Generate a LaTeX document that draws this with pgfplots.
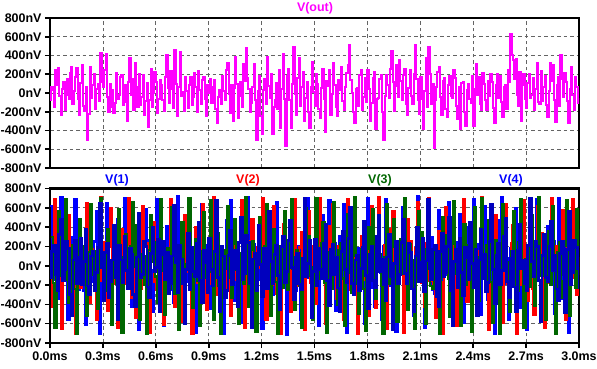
\documentclass[border=0pt]{standalone}
\usepackage{fontspec}
\setmainfont{Liberation Sans}
\usepackage{pgfplots}
\pgfplotsset{compat=1.18}
\definecolor{cout}{RGB}{255,0,255}
\definecolor{cone}{RGB}{0,0,255}
\definecolor{ctwo}{RGB}{255,0,0}
\definecolor{cthree}{RGB}{0,102,0}
\definecolor{cfour}{RGB}{0,0,190}
\definecolor{gridc}{RGB}{100,100,100}
\pgfplotsset{
  lt/.style={
    scale only axis, width=529bp,
    xmin=0, xmax=3, ymin=-800, ymax=800,
    xtick={0,0.3,0.6,0.9,1.2,1.5,1.8,2.1,2.4,2.7,3.0},
    ytick={-800,-600,-400,-200,0,200,400,600,800},
    yticklabels={-800nV,-600nV,-400nV,-200nV,0nV,200nV,400nV,600nV,800nV},
    grid=major,
    major grid style={gridc, line width=0.8bp, dash pattern=on 3.5bp off 3bp},
    tick align=outside, tick pos=left,
    major tick length=5bp,
    tick style={black, line width=1.6bp},
    axis line style={black, line width=2.4bp},
    ticklabel style={font={\fontsize{12.5}{15}\selectfont\bfseries}, text=black},
    /pgf/number format/assume math mode=true,
  }
}
\begin{document}
\begin{tikzpicture}
\useasboundingbox (0bp,0bp) rectangle (597bp,369bp);
\begin{axis}[lt, at={(50bp,201bp)}, anchor=south west, height=150bp,
  xticklabels={}, x tick style={draw=none}]
\addplot[cout, line width=2bp, const plot] table[row sep=\\, header=false, x expr=\coordindex*0.0075, y index=0] {
-80\\60\\30\\-150\\250\\90\\270\\-30\\-240\\40\\120\\-180\\-20\\150\\-60\\210\\280\\-120\\20\\170\\
270\\-60\\-240\\110\\300\\-140\\-190\\60\\-500\\-220\\280\\-50\\80\\200\\-170\\40\\100\\-90\\430\\120\\
60\\250\\420\\-40\\-200\\100\\-150\\30\\-210\\-110\\210\\-60\\-20\\170\\190\\-130\\-100\\80\\-300\\120\\
375\\-20\\150\\-180\\315\\60\\-150\\200\\-130\\-40\\190\\-230\\-90\\110\\-360\\-70\\260\\-150\\0\\220\\
120\\-210\\-60\\140\\80\\-80\\-190\\170\\400\\50\\-110\\230\\40\\-160\\455\\100\\-245\\60\\440\\-30\\
10\\-190\\175\\20\\-160\\90\\170\\-130\\-40\\210\\60\\-200\\230\\30\\-120\\140\\175\\-60\\-250\\80\\
0\\150\\-105\\60\\140\\-170\\-325\\-40\\30\\-120\\180\\20\\-80\\240\\315\\-10\\-210\\90\\-300\\50\\
385\\100\\-265\\-30\\120\\-150\\305\\130\\475\\160\\40\\-200\\-110\\60\\305\\-80\\-500\\20\\180\\-250\\
-440\\30\\150\\-120\\385\\70\\-50\\200\\-440\\-150\\-80\\110\\-170\\250\\-370\\40\\420\\-60\\-570\\180\\
260\\-80\\-370\\100\\490\\-10\\-230\\160\\370\\-140\\60\\220\\-300\\-50\\120\\-200\\-370\\60\\330\\10\\
-140\\200\\100\\-170\\-270\\50\\260\\-60\\-420\\130\\70\\240\\-230\\-10\\315\\80\\-150\\-250\\140\\30\\
280\\-90\\-180\\60\\210\\300\\510\\140\\0\\-200\\-315\\40\\50\\-140\\190\\250\\-180\\-40\\160\\-100\\
250\\40\\-300\\-110\\160\\220\\-385\\-60\\-50\\150\\190\\-200\\-500\\-30\\190\\90\\-50\\260\\445\\120\\
-190\\70\\300\\-40\\350\\130\\-70\\190\\260\\-120\\-230\\50\\250\\-30\\-120\\200\\510\\150\\-80\\-220\\
170\\-60\\-385\\20\\370\\-150\\490\\200\\-120\\100\\-590\\-80\\60\\220\\280\\-40\\-230\\130\\160\\-170\\
-260\\90\\180\\-30\\-50\\240\\160\\-140\\-280\\60\\-385\\110\\120\\-200\\-350\\30\\100\\-60\\-110\\180\\
-350\\40\\305\\-20\\170\\-120\\-180\\210\\100\\-70\\-180\\130\\-30\\200\\120\\-160\\-315\\80\\200\\-50\\
180\\-100\\-260\\60\\90\\-170\\240\\120\\630\\400\\350\\150\\360\\-20\\-140\\220\\-300\\90\\200\\-60\\
-160\\110\\200\\-50\\-20\\160\\-180\\40\\315\\-100\\-120\\230\\-90\\60\\180\\-130\\-260\\20\\315\\130\\
300\\-70\\-310\\80\\170\\-140\\410\\150\\-40\\210\\120\\-90\\-315\\40\\280\\-20\\-180\\170\\60\\-110\\
-50\\
};
\end{axis}
\begin{axis}[lt, at={(50bp,26bp)}, anchor=south west, height=154.5bp,
  xticklabels={0.0ms,0.3ms,0.6ms,0.9ms,1.2ms,1.5ms,1.8ms,2.1ms,2.4ms,2.7ms,3.0ms}]
\addplot[cone, line width=2.4bp, const plot] table[row sep=\\, header=false, x expr=\coordindex*0.01, y index=0] {
620\\-150\\180\\60\\-340\\210\\710\\-80\\-120\\190\\-560\\120\\300\\-200\\690\\30\\-250\\140\\40\\-260\\
-610\\90\\420\\-170\\-80\\250\\560\\-40\\-700\\110\\230\\-220\\650\\-10\\-310\\180\\-90\\240\\480\\-120\\
-530\\160\\700\\-60\\120\\-230\\-420\\70\\360\\-140\\-660\\50\\-200\\220\\590\\-190\\260\\-50\\-480\\130\\
690\\20\\-150\\240\\-620\\80\\410\\-110\\60\\-250\\-380\\150\\720\\-90\\-540\\100\\210\\-170\\500\\-20\\
-280\\190\\-690\\40\\330\\-160\\640\\-30\\-60\\210\\-450\\110\\580\\-140\\-230\\260\\150\\-80\\-700\\60\\
470\\-200\\680\\50\\-360\\130\\20\\-240\\-590\\10\\390\\-110\\710\\-60\\-140\\220\\-500\\90\\270\\-150\\
-650\\140\\540\\-30\\90\\-180\\-300\\230\\660\\-100\\-480\\70\\200\\-220\\-710\\150\\430\\-40\\600\\-260\\
-170\\200\\-560\\80\\350\\-120\\700\\-50\\-390\\170\\110\\-210\\-620\\60\\520\\-140\\-260\\250\\680\\30\\
-80\\230\\-470\\100\\310\\-190\\640\\20\\-690\\130\\240\\-90\\560\\-240\\-330\\180\\-30\\110\\-600\\40\\
700\\-110\\160\\-230\\-420\\60\\490\\-70\\-560\\200\\690\\-140\\-210\\120\\380\\-180\\-680\\90\\70\\250\\
610\\-60\\-370\\150\\220\\-200\\-520\\80\\720\\-30\\-130\\210\\-640\\140\\450\\-120\\300\\-250\\-290\\100\\
580\\30\\-700\\170\\140\\-90\\660\\-210\\-410\\120\\-60\\240\\530\\-70\\-590\\60\\400\\-160\\-240\\190\\
690\\-130\\80\\220\\-510\\40\\620\\-100\\-350\\160\\250\\-230\\-700\\110\\470\\-20\\710\\-170\\-190\\80\\
-560\\180\\330\\-150\\600\\-40\\-440\\210\\120\\-190\\-660\\90\\550\\-110\\-280\\230\\690\\10\\-20\\-240\\
-620\\120\\410\\-80\\180\\250\\-500\\30\\700\\-200\\-340\\140\\260\\-60\\-690\\170\\590\\-120\\-150\\200\\
380\\
};
\addplot[ctwo, line width=2.4bp, const plot] table[row sep=\\, header=false, x expr=\coordindex*0.01+0.003, y index=0] {
-420\\130\\690\\-210\\110\\240\\-650\\60\\340\\-140\\520\\-50\\-280\\190\\-700\\80\\460\\-230\\150\\-90\\
650\\-20\\-380\\170\\30\\-250\\-560\\110\\710\\-160\\240\\20\\-470\\200\\600\\-80\\-190\\150\\-640\\40\\
380\\-190\\90\\220\\700\\-60\\-330\\130\\-540\\70\\270\\-240\\620\\10\\-100\\230\\-690\\90\\450\\-170\\
-250\\160\\560\\-100\\-610\\50\\180\\-220\\690\\-30\\-420\\200\\10\\-150\\-580\\120\\520\\-60\\320\\-210\\
-700\\80\\400\\-180\\-160\\230\\640\\-40\\-460\\140\\210\\-190\\710\\20\\-300\\170\\-620\\60\\130\\-240\\
590\\-110\\-520\\210\\360\\-150\\-70\\240\\680\\-80\\-640\\100\\250\\-230\\480\\50\\-380\\190\\-20\\150\\
700\\-140\\-560\\70\\140\\-200\\620\\30\\-290\\180\\-700\\120\\430\\-90\\60\\240\\-480\\10\\690\\-160\\
-210\\190\\350\\-40\\-660\\90\\560\\-180\\200\\-230\\-390\\160\\700\\-70\\-120\\220\\-600\\50\\410\\-120\\
640\\-20\\-340\\200\\80\\-170\\-560\\110\\690\\-100\\-250\\140\\470\\-210\\-700\\60\\310\\-150\\160\\-240\\
-520\\170\\620\\-130\\-440\\230\\710\\40\\-60\\210\\-650\\80\\380\\-190\\560\\-30\\-310\\120\\20\\250\\
-690\\60\\480\\-220\\250\\-90\\-570\\180\\660\\-50\\-180\\230\\-420\\140\\700\\-160\\120\\-240\\-540\\100\\
360\\-170\\-700\\120\\610\\-60\\-30\\200\\450\\-210\\-620\\30\\220\\-130\\690\\90\\-370\\160\\-150\\220\\
560\\40\\-480\\150\\710\\-110\\80\\-230\\-660\\190\\300\\-80\\520\\-20\\-240\\210\\-590\\70\\640\\-190\\
-100\\230\\420\\-140\\-700\\100\\190\\-200\\680\\20\\-360\\170\\50\\-240\\-510\\130\\620\\-50\\340\\-90\\
-640\\110\\160\\-180\\700\\60\\-420\\200\\-220\\140\\580\\-70\\-560\\190\\270\\-120\\690\\-30\\-300\\80\\
-100\\
};
\addplot[cthree, line width=2.4bp, const plot] table[row sep=\\, header=false, x expr=\coordindex*0.01+0.006, y index=0] {
300\\-180\\-640\\100\\560\\-70\\-100\\230\\690\\-150\\-380\\60\\210\\-240\\-700\\130\\480\\-20\\-40\\200\\
-520\\140\\640\\-90\\150\\-210\\-450\\170\\700\\30\\-260\\220\\380\\-130\\-610\\50\\60\\-190\\590\\-60\\
-690\\90\\330\\-230\\-170\\200\\660\\-10\\420\\-150\\-560\\120\\100\\-200\\-700\\160\\520\\40\\240\\-110\\
-380\\210\\690\\-50\\-510\\70\\180\\-240\\610\\110\\-290\\180\\-660\\30\\450\\-140\\20\\230\\700\\-80\\
-440\\20\\270\\-160\\-620\\150\\550\\-100\\-120\\240\\680\\-60\\-560\\190\\340\\-210\\-700\\80\\160\\-30\\
620\\-120\\-330\\230\\480\\-40\\-600\\130\\90\\-190\\710\\10\\-420\\170\\250\\-90\\-680\\60\\500\\-220\\
-60\\200\\640\\-140\\-520\\90\\380\\-170\\-700\\50\\200\\-230\\570\\120\\-250\\240\\690\\-30\\-460\\160\\
130\\-210\\-640\\80\\600\\-100\\310\\-20\\-560\\190\\700\\-60\\-140\\230\\450\\-180\\-690\\140\\50\\-240\\
660\\30\\-400\\160\\230\\-130\\-620\\210\\530\\-70\\-280\\100\\710\\-190\\-500\\50\\170\\-240\\-670\\180\\
400\\-160\\590\\20\\-340\\240\\120\\-210\\-700\\90\\640\\-110\\-190\\200\\480\\-40\\-580\\130\\280\\-80\\
700\\10\\-460\\220\\60\\-180\\-650\\150\\560\\-120\\350\\-30\\-600\\170\\690\\-210\\-240\\60\\140\\-90\\
-700\\190\\500\\-50\\320\\-140\\-530\\230\\670\\-20\\-80\\160\\-620\\40\\430\\-200\\210\\-110\\-680\\120\\
610\\-230\\-360\\90\\700\\-60\\-150\\210\\470\\-170\\-590\\130\\260\\-100\\-700\\200\\640\\-40\\40\\-190\\
-480\\150\\560\\-120\\-260\\240\\690\\-30\\-640\\70\\180\\-220\\520\\-80\\-410\\190\\710\\20\\-100\\230\\
-560\\60\\360\\-200\\620\\-10\\-700\\140\\240\\-160\\-330\\210\\680\\-50\\-520\\100\\110\\-230\\590\\30\\
-400\\
};
\addplot[cfour, line width=2.8bp, const plot] table[row sep=\\, header=false, x expr=\coordindex*0.01, y index=0] {
-120\\150\\210\\-90\\-260\\320\\480\\-150\\-40\\250\\180\\-300\\-520\\60\\260\\-180\\90\\280\\-200\\40\\
380\\-210\\-300\\100\\150\\-260\\-70\\190\\650\\-20\\-360\\140\\230\\-330\\-160\\60\\420\\-120\\-560\\210\\
60\\-170\\300\\-50\\-240\\180\\120\\-300\\-420\\90\\540\\-120\\-90\\250\\200\\-220\\-330\\130\\400\\-60\\
-20\\270\\-480\\120\\250\\-140\\140\\-290\\-180\\100\\620\\30\\-280\\210\\70\\-190\\-600\\-40\\330\\-250\\
190\\-60\\-110\\230\\450\\-150\\-380\\160\\30\\-280\\280\\-40\\-210\\150\\680\\-120\\-470\\200\\100\\-330\\
-260\\110\\370\\-200\\160\\-30\\-420\\240\\500\\-140\\-80\\310\\240\\-180\\-640\\70\\130\\-260\\420\\10\\
-320\\180\\50\\-240\\560\\40\\-190\\120\\210\\-100\\-450\\200\\300\\-170\\-60\\260\\470\\-20\\-350\\90\\
130\\-190\\-250\\80\\700\\-110\\20\\260\\-540\\-60\\270\\-210\\180\\-40\\-130\\230\\430\\-150\\-410\\170\\
220\\-90\\90\\-230\\-480\\150\\360\\-40\\-170\\280\\600\\-180\\-300\\60\\110\\-260\\-30\\190\\460\\-100\\
-440\\120\\200\\-150\\-230\\300\\520\\-60\\70\\-200\\-360\\90\\320\\-110\\-660\\20\\250\\-190\\-90\\240\\
480\\-80\\-190\\230\\140\\-240\\-470\\100\\400\\-160\\30\\280\\-270\\50\\690\\-30\\-140\\170\\210\\-320\\
-420\\150\\340\\-110\\-70\\200\\500\\-260\\-620\\40\\170\\-230\\280\\-70\\-310\\190\\80\\-140\\450\\20\\
-230\\170\\-520\\60\\380\\-130\\120\\-270\\-170\\250\\640\\-40\\-390\\110\\230\\-200\\-50\\300\\490\\-160\\
-330\\80\\150\\-220\\-470\\160\\430\\-30\\60\\-190\\-260\\210\\700\\40\\-110\\250\\200\\-150\\-580\\110\\
320\\-120\\-160\\200\\460\\-50\\110\\-240\\-360\\130\\250\\-90\\-490\\170\\560\\-200\\-70\\260\\190\\-30\\
-240\\
};
\end{axis}
\begin{scope}[font={\fontsize{12.5}{15}\selectfont\bfseries}]
\node[text=cout] at (315bp,361bp) {V(out)};
\node[text=cone] at (117bp,189bp) {V(1)};
\node[text=ctwo] at (248bp,189bp) {V(2)};
\node[text=cthree] at (380bp,189bp) {V(3)};
\node[text=cone] at (511bp,189bp) {V(4)};
\end{scope}
\end{tikzpicture}
\end{document}
